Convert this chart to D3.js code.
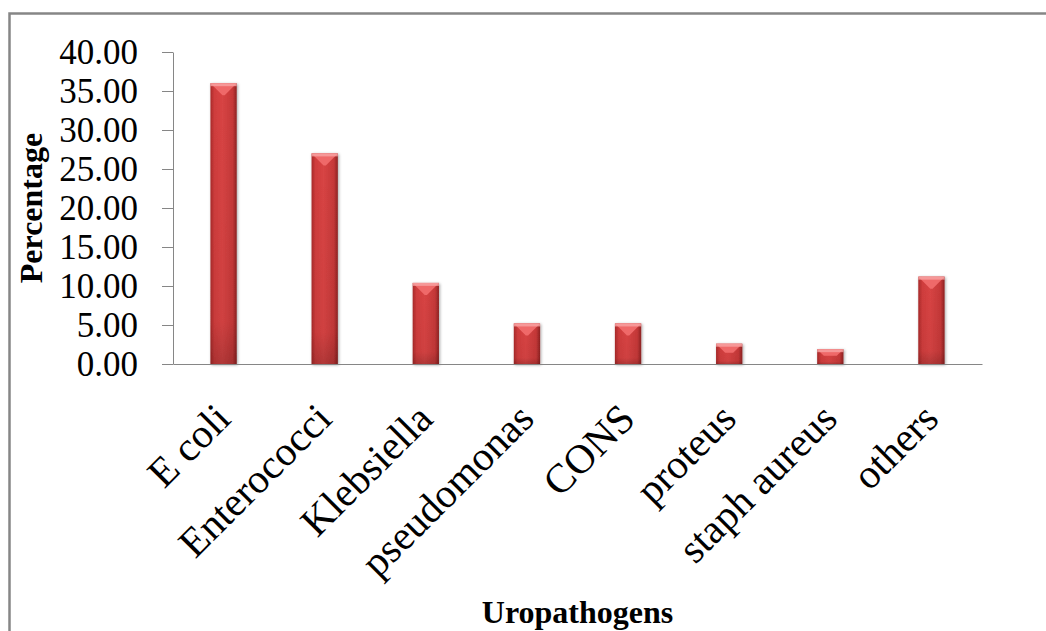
<!DOCTYPE html>
<html>
<head>
<meta charset="utf-8">
<script src="https://cdn.jsdelivr.net/npm/d3@7"></script>
<style>
  body { margin: 0; background: #fff; }
  svg { display: block; }
</style>
</head>
<body>
<div id="chart"></div>
<script>
const categories = ["E coli", "Enterococci", "Klebsiella", "pseudomonas", "CONS", "proteus", "staph aureus", "others"];
const percentages = [36.0, 27.0, 10.4, 5.2, 5.2, 2.6, 1.9, 11.2];
const yTicks = [0, 5, 10, 15, 20, 25, 30, 35, 40];

const W = 1046, H = 631;
const margin = {top: 52, right: 64, bottom: 267, left: 173};
const width = W - margin.left - margin.right;
const height = H - margin.top - margin.bottom;

const svg = d3.select("#chart")
  .append("svg")
    .attr("width", W)
    .attr("height", H);

// outer frame (right and bottom edges run off the picture)
svg.append("rect")
  .attr("x", 9.5)
  .attr("y", 13.5)
  .attr("width", 1200)
  .attr("height", 800)
  .attr("fill", "none")
  .attr("stroke", "#868686")
  .attr("stroke-width", 2.5);

const defs = svg.append("defs");

const grad = defs.append("linearGradient")
  .attr("id", "barBody")
  .attr("x1", "0%").attr("x2", "100%").attr("y1", "0%").attr("y2", "0%");
grad.append("stop").attr("offset", "0%").attr("stop-color", "#a82a2a");
grad.append("stop").attr("offset", "15%").attr("stop-color", "#cf3c3c");
grad.append("stop").attr("offset", "45%").attr("stop-color", "#d84444");
grad.append("stop").attr("offset", "85%").attr("stop-color", "#c53838");
grad.append("stop").attr("offset", "100%").attr("stop-color", "#8e2222");

const vgrad = defs.append("linearGradient")
  .attr("id", "barShade")
  .attr("x1", "0%").attr("x2", "0%").attr("y1", "0%").attr("y2", "100%");
vgrad.append("stop").attr("offset", "0%").attr("stop-color", "#000").attr("stop-opacity", 0);
vgrad.append("stop").attr("offset", "85%").attr("stop-color", "#000").attr("stop-opacity", 0.04);
vgrad.append("stop").attr("offset", "100%").attr("stop-color", "#000").attr("stop-opacity", 0.18);

const shadow = defs.append("filter")
  .attr("id", "shadow")
  .attr("x", "-30%").attr("y", "-10%").attr("width", "160%").attr("height", "130%");
shadow.append("feDropShadow")
  .attr("dx", 1).attr("dy", 1)
  .attr("stdDeviation", 1.5)
  .attr("flood-color", "#000")
  .attr("flood-opacity", 0.35);

const g = svg.append("g")
  .attr("transform", `translate(${margin.left},${margin.top})`);

// X scale
const x = d3.scaleBand()
  .domain(categories)
  .range([0, width])
  .paddingInner(0.74)
  .paddingOuter(0.37);

// Y scale
const y = d3.scaleLinear()
  .domain([0, 40])
  .range([height, 0]);

// Y axis
const yAxis = g.append("g")
  .call(d3.axisLeft(y)
    .tickValues(yTicks)
    .tickSize(11)
    .tickSizeOuter(0)
    .tickPadding(24)
    .tickFormat(d3.format(".2f")));
yAxis.select(".domain").attr("stroke", "#868686");
yAxis.selectAll(".tick line").attr("stroke", "#868686");
yAxis.selectAll("text")
  .style("font-size", "35px")
  .style("font-family", "'Liberation Serif', 'Times New Roman', serif")
  .attr("fill", "#000");

// Bars
const bars = g.selectAll(".bar")
  .data(categories)
  .enter()
  .append("g")
    .attr("class", "bar")
    .attr("filter", "url(#shadow)");

bars.append("rect")
  .attr("x", d => x(d))
  .attr("y", (d, i) => y(percentages[i]))
  .attr("width", x.bandwidth())
  .attr("height", (d, i) => height - y(percentages[i]))
  .attr("fill", "url(#barBody)");

bars.append("rect")
  .attr("x", d => x(d))
  .attr("y", (d, i) => y(percentages[i]))
  .attr("width", x.bandwidth())
  .attr("height", (d, i) => height - y(percentages[i]))
  .attr("fill", "url(#barShade)");

// top bevel
bars.append("polygon")
  .attr("points", (d, i) => {
    const x0 = x(d), x1 = x(d) + x.bandwidth();
    const top = y(percentages[i]);
    const h = Math.min(12, (height - top) * 0.45);
    const cx = (x0 + x1) / 2;
    const half = Math.max(0, x.bandwidth() / 2 - h);
    return [[x0, top], [x1, top], [cx + half, top + h], [cx - half, top + h]].join(" ");
  })
  .attr("fill", "#f06c6c")
  .attr("opacity", 0.95);

bars.append("rect")
  .attr("x", d => x(d))
  .attr("y", (d, i) => y(percentages[i]))
  .attr("width", x.bandwidth())
  .attr("height", 3)
  .attr("fill", "#f8a4a4")
  .attr("opacity", 0.8);

// X axis
const xAxis = g.append("g")
  .attr("transform", `translate(0,${height})`)
  .call(d3.axisBottom(x).tickSize(0).tickSizeOuter(0));
xAxis.select(".domain").attr("stroke", "#868686");
xAxis.selectAll("text")
  .attr("y", 0)
  .attr("dy", 0)
  .attr("transform", "translate(9,57) rotate(-45)")
  .style("text-anchor", "end")
  .style("font-size", "41px")
  .style("font-family", "'Liberation Serif', 'Times New Roman', serif")
  .attr("fill", "#000");

// X axis label
g.append("text")
  .attr("x", width / 2)
  .attr("y", 623 - margin.top)
  .style("text-anchor", "middle")
  .style("font-size", "32px")
  .style("font-weight", "bold")
  .style("font-family", "'Liberation Serif', 'Times New Roman', serif")
  .text("Uropathogens");

// Y axis label
g.append("text")
  .attr("transform", "rotate(-90)")
  .attr("x", -height / 2)
  .attr("y", 42 - margin.left)
  .style("text-anchor", "middle")
  .style("font-size", "32px")
  .style("font-weight", "bold")
  .style("font-family", "'Liberation Serif', 'Times New Roman', serif")
  .text("Percentage");
</script>
</body>
</html>
